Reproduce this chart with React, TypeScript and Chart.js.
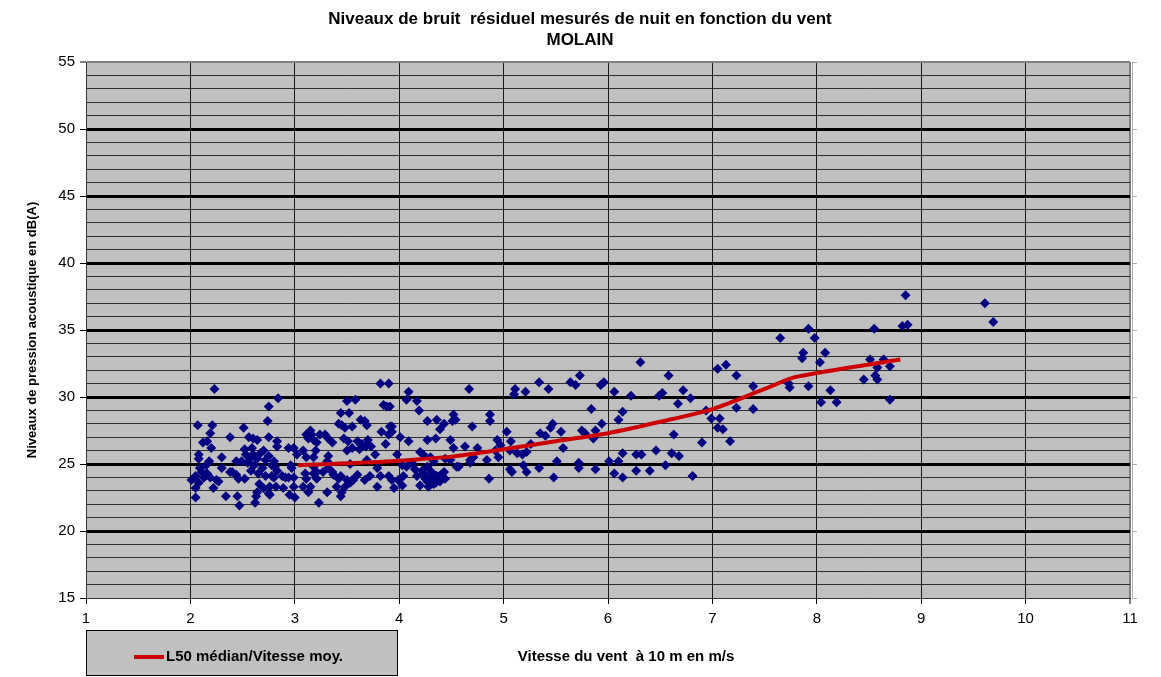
import { useEffect, useRef } from 'react';
import { Chart, registerables } from 'chart.js';

Chart.register(...registerables);

const FONT = "'Liberation Sans', Arial, Helvetica, sans-serif";

const chartTitle = ['Niveaux de bruit  résiduel mesurés de nuit en fonction du vent', 'MOLAIN'];
const xAxisTitle = 'Vitesse du vent  à 10 m en m/s';
const yAxisTitle = 'Niveaux de pression acoustique en dB(A)';
const legendLabel = 'L50 médian/Vitesse moy.';

const xRange = [1, 11];
const yRange = [15, 55];

// Scatter: wind speed (m/s) and residual night-time noise level (dB(A))
const windSpeeds = [
  2.01, 2.05, 2.08, 2.05, 2.05, 2.07, 2.08, 2.08, 2.12, 2.16, 2.19, 2.20, 2.21, 2.23, 2.18, 2.15, 2.11, 2.13, 2.19, 2.16,
  2.25, 2.22, 2.27, 2.30, 2.30, 2.34, 2.38, 2.38, 2.44, 2.44, 2.46, 2.45, 2.47, 2.09, 2.40,
  2.51, 2.56, 2.60, 2.64, 2.52, 2.59, 2.62, 2.63, 2.75, 2.84, 2.74, 2.75, 2.72, 2.78, 2.60, 2.64, 2.67, 2.70, 2.72, 2.75,
  2.61, 2.69, 2.55, 2.58, 2.65, 2.78, 2.52, 2.66, 2.70, 2.75, 2.64, 2.57, 2.49, 2.53, 2.83, 2.83, 2.94, 2.99, 2.80, 2.81,
  2.83, 2.96, 2.97, 2.80, 2.88, 2.91, 2.94, 2.99, 2.76, 2.82, 2.89, 2.99, 2.76, 2.95, 3.00,
  3.02, 3.08, 3.11, 3.23, 3.10, 3.11, 3.18, 3.21, 3.08, 3.15, 3.13, 3.31, 3.44, 3.45, 3.48, 3.53, 3.56, 3.60, 3.15, 3.16,
  3.11, 3.13, 3.18, 3.24, 3.29, 3.32, 3.36, 3.21, 3.20, 3.18, 3.32, 3.18, 3.21, 3.27, 3.32, 3.37, 3.44, 3.44, 3.52, 3.50,
  3.58, 3.42, 3.45, 3.48, 3.55, 3.63, 3.67, 3.69, 3.47, 3.51, 3.60, 3.64, 3.70, 3.73, 3.77, 3.50, 3.55, 3.62, 3.68, 3.82,
  3.90, 3.85, 3.88, 3.83, 3.90, 3.93, 3.87, 3.53, 3.69, 3.79, 3.72, 3.82, 3.90, 3.79, 3.67, 3.55, 3.31, 3.36, 3.42, 3.40, 3.50,
  3.91, 4.09, 4.07, 4.17, 4.19, 4.67, 4.27, 4.36, 4.43, 4.39, 4.52, 4.54, 4.51, 4.70, 4.87, 4.87, 3.91, 3.93, 4.01, 4.09,
  4.27, 4.35, 4.49, 4.52, 4.63, 4.75, 4.94, 4.97, 4.92, 3.98, 4.03, 4.07, 4.20, 4.23, 4.30, 4.33, 4.44, 4.49, 4.55, 4.68,
  4.71, 4.84, 4.95, 4.57, 4.68, 4.17, 4.20, 4.23, 4.25, 4.27, 4.28, 4.30, 4.31, 4.33, 4.36, 4.39, 4.43, 4.44, 4.27, 4.22,
  4.04, 4.03, 3.99, 3.93, 3.95, 4.86, 4.12, 4.15, 4.35, 4.40, 4.33,
  5.03, 5.07, 5.11, 5.10, 5.21, 5.34, 5.43, 5.64, 5.69, 5.73, 5.93, 5.96, 6.06, 6.22, 6.31, 5.84, 6.14, 6.10, 5.35, 5.40,
  5.45, 5.47, 5.55, 5.57, 5.75, 5.78, 5.86, 5.88, 5.94, 5.06, 5.13, 5.18, 5.22, 5.26, 5.19, 5.22, 5.06, 5.08, 5.34, 5.48,
  5.51, 5.72, 5.72, 5.88, 6.01, 6.06, 6.10, 6.14, 6.14, 6.27, 6.27,
  6.58, 6.49, 6.52, 6.72, 6.79, 6.67, 7.05, 7.13, 7.23, 7.39, 7.39, 7.23, 6.94, 6.99, 7.07, 7.05, 7.10, 7.17, 6.90, 6.63,
  6.32, 6.46, 6.61, 6.68, 6.55, 6.40, 6.81,
  7.65, 7.92, 7.98, 7.87, 7.86, 8.08, 8.03, 7.73, 7.74, 7.92, 8.13, 8.04, 8.19, 8.55, 8.51, 8.64, 8.58, 8.70, 8.45, 8.56,
  8.58, 8.70, 8.85, 8.82, 8.87, 9.61, 9.69,
];

const noiseLevels = [
  23.8, 24.1, 23.6, 23.2, 22.5, 27.9, 25.7, 25.4, 26.6, 26.7, 27.3, 26.2, 27.9, 30.6, 25.2, 24.9, 24.4, 24.0, 24.0, 24.3,
  23.8, 23.2, 23.7, 25.5, 24.7, 22.6, 27.0, 24.4, 25.2, 24.2, 23.9, 22.6, 21.9, 24.7, 24.4,
  27.7, 27.0, 26.9, 26.8, 26.1, 26.2, 22.1, 22.6, 29.3, 29.9, 28.2, 27.0, 24.1, 24.1, 25.7, 25.4, 25.8, 26.0, 25.3, 25.6,
  24.9, 24.7, 25.1, 24.5, 24.3, 24.9, 23.9, 23.5, 23.2, 22.8, 22.9, 25.4, 25.2, 25.7, 26.7, 26.3, 26.2, 26.2, 25.2, 24.8,
  24.5, 24.9, 24.7, 24.0, 24.1, 24.0, 24.0, 24.0, 23.3, 23.3, 23.2, 23.3, 22.7, 22.7, 22.5,
  25.7, 26.0, 25.5, 22.1, 24.3, 23.9, 24.3, 23.9, 23.3, 23.3, 22.9, 22.9, 22.6, 22.9, 23.3, 23.6, 23.8, 24.2, 27.5, 27.2,
  27.2, 26.9, 26.8, 27.2, 27.2, 26.9, 26.6, 26.6, 26.0, 25.5, 25.6, 24.8, 24.4, 24.4, 24.7, 24.2, 24.1, 28.8, 28.8, 29.7,
  29.8, 28.0, 27.9, 27.7, 27.8, 28.3, 28.2, 27.9, 26.9, 26.7, 26.7, 26.5, 26.8, 26.3, 25.7, 26.0, 26.2, 26.1, 26.3, 31.0,
  31.0, 29.4, 29.3, 27.4, 27.2, 27.8, 26.5, 25.0, 25.3, 24.7, 24.1, 24.1, 24.1, 23.3, 23.8, 23.8, 25.2, 24.4, 23.9, 23.3, 23.8,
  29.3, 30.4, 29.8, 29.7, 29.0, 30.6, 28.2, 28.3, 28.0, 27.6, 28.7, 28.3, 28.2, 27.8, 28.7, 28.2, 27.8, 27.4, 27.0, 26.7,
  26.8, 26.9, 26.8, 26.2, 26.3, 26.2, 26.8, 26.4, 26.0, 25.7, 24.9, 24.8, 25.9, 25.7, 25.5, 25.2, 25.4, 25.3, 24.8, 25.3,
  25.5, 25.3, 25.5, 24.8, 25.1, 24.1, 23.4, 24.3, 23.9, 23.7, 23.3, 24.1, 24.4, 23.8, 24.1, 23.7, 24.4, 23.9, 24.8, 24.5,
  24.1, 23.4, 23.8, 23.8, 23.2, 23.9, 25.1, 24.6, 23.6, 24.2, 23.5,
  27.4, 26.7, 30.6, 30.2, 30.4, 31.1, 30.6, 31.1, 30.9, 31.6, 30.9, 31.1, 30.4, 30.1, 32.6, 29.1, 28.9, 28.3, 27.3, 27.1,
  27.7, 28.0, 27.4, 26.2, 27.5, 27.3, 26.9, 27.5, 28.0, 26.0, 25.8, 25.7, 25.9, 26.5, 24.9, 24.4, 24.6, 24.4, 24.7, 24.0,
  25.2, 25.1, 24.7, 24.6, 25.2, 24.3, 25.2, 25.8, 24.0, 25.7, 24.5,
  31.6, 30.1, 30.3, 30.5, 29.9, 29.5, 32.1, 32.4, 31.6, 30.8, 29.1, 29.2, 29.0, 28.4, 28.4, 27.7, 27.6, 26.7, 26.6, 27.2,
  25.7, 26.0, 25.8, 25.6, 24.9, 24.5, 24.1,
  34.4, 35.1, 34.4, 33.3, 32.9, 33.3, 32.6, 31.0, 30.7, 30.8, 30.5, 29.6, 29.6, 35.1, 32.8, 32.8, 32.2, 32.3, 31.3, 31.6,
  31.3, 29.8, 37.6, 35.3, 35.4, 37.0, 35.6,
];

// L50 median per wind speed class
const medianSpeeds = [3.03, 3.5, 4.0, 4.5, 5.0, 5.5, 6.0, 6.5, 7.0, 7.5, 7.8, 8.8];
const medianLevels = [24.9, 25.05, 25.25, 25.55, 26.1, 26.7, 27.3, 28.15, 29.1, 30.6, 31.5, 32.8];

const decorPlugin = {
  id: 'decor',
  beforeDraw(chart: any) {
    const { ctx, chartArea: a, width, height } = chart;
    ctx.save();
    ctx.fillStyle = '#ffffff';
    ctx.fillRect(0, 0, width, height);
    ctx.fillStyle = '#C0C0C0';
    ctx.fillRect(a.left, a.top, a.right - a.left, a.bottom - a.top);
    ctx.restore();
  },
  afterDraw(chart: any) {
    const { ctx, chartArea: a } = chart;
    ctx.save();
    // light right-side frame with tick marks at the major levels
    const yScale = chart.scales.y;
    ctx.strokeStyle = '#b0b0b0';
    ctx.lineWidth = 1;
    ctx.beginPath();
    ctx.moveTo(a.right + 2.5, a.top);
    ctx.lineTo(a.right + 2.5, a.bottom);
    for (let v = yRange[0]; v <= yRange[1]; v += 5) {
      const py = Math.round(yScale.getPixelForValue(v)) + 0.5;
      ctx.moveTo(a.right + 2, py);
      ctx.lineTo(a.right + 7, py);
    }
    ctx.stroke();

    ctx.fillStyle = '#000';
    ctx.textAlign = 'center';
    ctx.textBaseline = 'middle';
    ctx.font = `bold 17px ${FONT}`;
    ctx.fillText(chartTitle[0], 580, 19);
    ctx.fillText(chartTitle[1], 580, 40);

    ctx.save();
    ctx.translate(32, (a.top + a.bottom) / 2);
    ctx.rotate(-Math.PI / 2);
    ctx.font = `bold 13px ${FONT}`;
    ctx.fillText(yAxisTitle, 0, 0);
    ctx.restore();

    ctx.font = `bold 15px ${FONT}`;
    ctx.fillText(xAxisTitle, 626, 657);

    // legend box
    ctx.fillStyle = '#C0C0C0';
    ctx.fillRect(86.5, 630.5, 311, 45);
    ctx.strokeStyle = '#000';
    ctx.lineWidth = 1;
    ctx.strokeRect(86.5, 630.5, 311, 45);
    ctx.strokeStyle = '#CC0000';
    ctx.lineWidth = 4;
    ctx.beginPath();
    ctx.moveTo(134, 657);
    ctx.lineTo(164, 657);
    ctx.stroke();
    ctx.fillStyle = '#000';
    ctx.textAlign = 'left';
    ctx.font = `bold 15px ${FONT}`;
    ctx.fillText(legendLabel, 166, 657);
    ctx.restore();
  },
};

export default function App() {
  const ref = useRef<HTMLCanvasElement | null>(null);
  useEffect(() => {
    if (!ref.current) return;
    const scatterData = windSpeeds.map((x, i) => ({ x, y: noiseLevels[i] }));
    const medianData = medianSpeeds.map((x, i) => ({ x, y: medianLevels[i] }));
    const tickFont = { family: FONT, size: 15 };
    const chart = new Chart(ref.current, {
      type: 'scatter',
      data: {
        datasets: [
          {
            label: legendLabel,
            data: medianData,
            showLine: true,
            borderColor: '#CC0000',
            backgroundColor: '#CC0000',
            borderWidth: 4,
            pointRadius: 0,
            tension: 0.25,
            order: 0,
          },
          {
            label: 'Mesures',
            data: scatterData,
            pointStyle: 'rectRot',
            pointRadius: 5,
            borderWidth: 0,
            backgroundColor: '#000080',
            borderColor: '#000080',
            order: 1,
          },
        ],
      },
      options: {
        responsive: false,
        animation: false,
        layout: { padding: { top: 62, right: 31, left: 0, bottom: 0 } },
        plugins: {
          legend: { display: false },
          title: { display: false },
          tooltip: { enabled: false },
        },
        scales: {
          x: {
            type: 'linear',
            min: xRange[0],
            max: xRange[1],
            ticks: { stepSize: 1, autoSkip: false, maxRotation: 0, color: '#000', font: tickFont, padding: 6 },
            grid: {
              color: (c: any) => (c.tick && c.tick.value === 11 ? '#808080' : '#1a1a1a'),
              lineWidth: (c: any) => (c.tick && c.tick.value === 11 ? 2 : 1),
              tickColor: '#000',
              tickWidth: 1,
              tickLength: 6,
            },
            border: { color: '#333', width: 1 },
            afterFit: (s: any) => {
              s.height = 79;
            },
          },
          y: {
            type: 'linear',
            min: yRange[0],
            max: yRange[1],
            ticks: {
              stepSize: 1,
              autoSkip: false,
              color: '#000',
              font: tickFont,
              padding: 5,
              callback: (v: any) => (Number(v) % 5 === 0 ? String(v) : ''),
            },
            grid: {
              color: (c: any) => {
                const v = c.tick ? c.tick.value : 0;
                if (v === 55) return '#808080';
                if (v === 15) return '#333';
                return v % 5 === 0 ? '#000' : '#2e2e2e';
              },
              lineWidth: (c: any) => {
                const v = c.tick ? c.tick.value : 0;
                if (v === 55) return 2;
                if (v === 15) return 1;
                return v % 5 === 0 ? 3 : 1;
              },
              tickColor: (c: any) => (c.tick && c.tick.value % 5 === 0 ? '#000' : 'rgba(0,0,0,0)'),
              tickWidth: 1,
              tickLength: 6,
            },
            border: { color: '#333', width: 1 },
            afterFit: (s: any) => {
              s.width = 86;
            },
          },
        },
      },
      plugins: [decorPlugin],
    } as any);
    return () => chart.destroy();
  }, []);
  return (
    <div style={{ position: 'absolute', left: 0, top: 0, width: 1161, height: 677 }}>
      <canvas ref={ref} width={1161} height={677} style={{ display: 'block' }} />
    </div>
  );
}
